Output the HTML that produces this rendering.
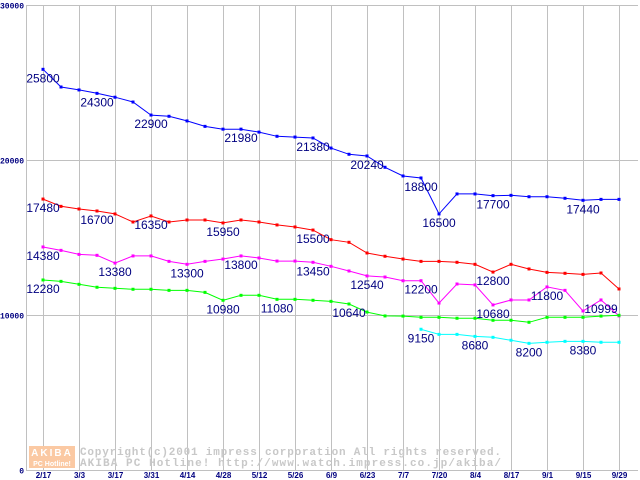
<!DOCTYPE html>
<html><head><meta charset="utf-8"><style>
html,body{margin:0;padding:0;background:#fff;}
svg{display:block;}
</style></head><body>
<svg id="chart" width="640" height="480" viewBox="0 0 640 480" xmlns="http://www.w3.org/2000/svg">
<g id="grid"></g>
<g id="yticks"></g>
<g id="xticks"></g>
<g id="watermark">
  <rect x="29" y="446" width="46" height="22" fill="#fbc9a3"/>
  <text x="52" y="456" text-anchor="middle" font-family="Liberation Sans, sans-serif" font-weight="bold" font-size="10" fill="#fff" letter-spacing="2">AKIBA</text>
  <text x="52" y="466" text-anchor="middle" font-family="Liberation Sans, sans-serif" font-weight="bold" font-size="7" fill="#fff">PC Hotline!</text>
  <text x="80" y="455" font-family="Liberation Mono, monospace" font-weight="bold" font-size="11" fill="#c8c8c8" textLength="421" lengthAdjust="spacing">Copyright(c)2001 impress corporation All rights reserved.</text>
  <text x="80" y="466" font-family="Liberation Mono, monospace" font-weight="bold" font-size="11" fill="#c8c8c8" textLength="421" lengthAdjust="spacing">AKIBA PC Hotline!  http://www.watch.impress.co.jp/akiba/</text>
</g>
<g id="series"></g>
<g id="labels"></g>
</svg>
<script>
const xLabels = ["2/17","3/3","3/17","3/31","4/14","4/28","5/12","5/26","6/9","6/23","7/7","7/20","8/4","8/17","9/1","9/15","9/29"];
const yTicks = [0,10000,20000,30000];
const blueValues = [25850,24710,24520,24300,24050,23740,22900,22820,22520,22170,21990,21990,21800,21530,21480,21420,20770,20370,20260,19530,18970,18840,16520,17810,17810,17700,17720,17630,17630,17530,17400,17460,17460];
const redValues = [17480,17010,16840,16710,16520,16000,16390,16000,16130,16130,15940,16130,16000,15810,15680,15480,14860,14690,14000,13790,13610,13460,13460,13400,13270,12770,13270,12970,12750,12690,12620,12710,11680];
const magentaValues = [14390,14170,13910,13850,13350,13810,13810,13460,13270,13460,13610,13810,13680,13480,13480,13400,13140,12840,12520,12450,12210,12210,10770,12000,11940,10650,10970,10970,11810,11590,10260,10970,9940];
const greenValues = [12260,12170,11980,11790,11720,11660,11660,11590,11590,11460,10950,11270,11270,11010,11010,10950,10880,10710,10190,9940,9930,9850,9850,9790,9790,9660,9660,9530,9850,9850,9850,9930,9980];
const cyanValues = [null,null,null,null,null,null,null,null,null,null,null,null,null,null,null,null,null,null,null,null,null,9080,8750,8750,8620,8560,8370,8170,8240,8300,8300,8240,8240];
const blueLabels = [[0,"25800"],[3,"24300"],[6,"22900"],[11,"21980"],[15,"21380"],[18,"20240"],[21,"18800"],[22,"16500"],[25,"17700"],[30,"17440"]];
const redLabels = [[0,"17480"],[3,"16700"],[6,"16350"],[10,"15950"],[15,"15500"],[25,"12800"]];
const magentaLabels = [[0,"14380"],[4,"13380"],[8,"13300"],[11,"13800"],[15,"13450"],[18,"12540"],[21,"12200"],[25,"10680"],[28,"11800"],[31,"10999"]];
const greenLabels = [[0,"12280"],[10,"10980"],[13,"11080"],[17,"10640"]];
const cyanLabels = [[21,"9150"],[24,"8680"],[27,"8200"],[30,"8380"]];

const NS="http://www.w3.org/2000/svg";
const X0=43, WK=18, LEFT=26, RIGHT=638, Y0=470, YMAX=30000, YTOP=5;
function xPos(i){return X0+i*WK;}
function yPos(v){return Y0-(v/YMAX)*(Y0-YTOP);}
function mk(tag,attrs,parent){const e=document.createElementNS(NS,tag);for(const k in attrs)e.setAttribute(k,attrs[k]);parent.appendChild(e);return e;}

const grid=document.getElementById('grid');
const yt=document.getElementById('yticks');
const xt=document.getElementById('xticks');
const ser=document.getElementById('series');
const lab=document.getElementById('labels');

let l=mk('line',{x1:LEFT+0.5,y1:YTOP,x2:LEFT+0.5,y2:Y0,stroke:'#c0c0c0'},grid);


yTicks.forEach(v=>{
  const y=Math.round(yPos(v))+0.5;
  const g=mk('line',{x1:LEFT,y1:y,x2:RIGHT,y2:y,stroke:'#c0c0c0'},grid);
  
  
  const t=mk('text',{x:24,y:y+3,'text-anchor':'end','font-family':'Liberation Mono, monospace','font-weight':'bold','font-size':'8',fill:'#000080'},yt);
  t.textContent=String(v);
  
  
});
xLabels.forEach((s,i)=>{
  const x=Math.round(xPos(i*2))+0.5;
  const g=mk('line',{x1:x,y1:YTOP,x2:x,y2:Y0,stroke:'#c0c0c0'},grid);
  
  
  const t=mk('text',{x:x,y:478,'text-anchor':'middle','font-family':'Liberation Sans, sans-serif','font-weight':'bold','font-size':'8',fill:'#000080'},xt);
  t.textContent=s;
  
  
});

function drawSeries(vals,color,name){
  const g=mk('g',{},ser);
  
  
  let pts=[];
  vals.forEach((v,i)=>{if(v!==null)pts.push(xPos(i)+','+yPos(v).toFixed(1));});
  const p=mk('polyline',{points:pts.join(' '),fill:'none',stroke:color,'stroke-width':'1'},g);
  
  
  vals.forEach((v,i)=>{
    if(v===null)return;
    const r=mk('rect',{x:xPos(i)-1.5,y:yPos(v)-1.5,width:3,height:3,fill:color},g);
    
    
  });
}
function drawLabels(vals,labels,name){
  labels.forEach(([i,s])=>{
    const t=mk('text',{x:xPos(i),y:yPos(vals[i])+13,'text-anchor':'middle','font-family':'Liberation Sans, sans-serif','font-size':'12',fill:'#000080'},lab);
    t.textContent=s;
    
    
  });
}
drawSeries(blueValues,'#0000ff','blue');
drawSeries(redValues,'#ff0000','red');
drawSeries(magentaValues,'#ff00ff','magenta');
drawSeries(greenValues,'#00ff00','green');
drawSeries(cyanValues,'#00ffff','cyan');
drawLabels(blueValues,blueLabels,'blue');
drawLabels(redValues,redLabels,'red');
drawLabels(magentaValues,magentaLabels,'magenta');
drawLabels(greenValues,greenLabels,'green');
drawLabels(cyanValues,cyanLabels,'cyan');
</script>
</body></html>
